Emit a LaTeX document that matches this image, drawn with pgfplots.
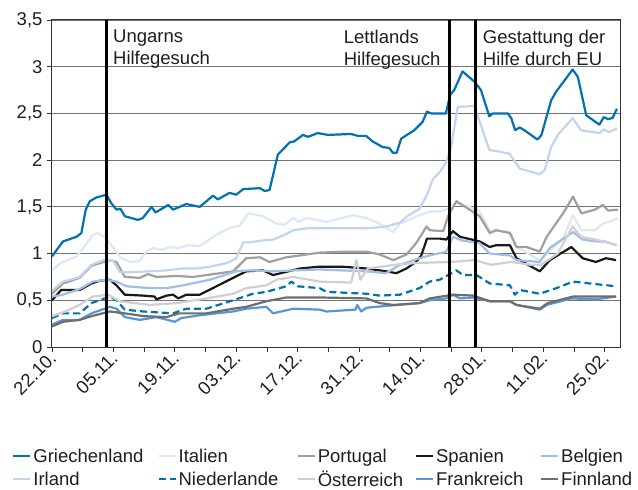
\documentclass[border=0pt]{standalone}
\usepackage{pgfplots}
\pgfplotsset{compat=1.18}
\usepackage{fontspec}
\setmainfont{Liberation Sans}

\definecolor{cGR}{RGB}{0,114,178}
\definecolor{cIT}{RGB}{220,232,248}
\definecolor{cIE}{RGB}{194,213,240}
\definecolor{cBE}{RGB}{160,190,232}
\definecolor{cFR}{RGB}{90,150,214}
\definecolor{cPT}{RGB}{160,160,160}
\definecolor{cES}{RGB}{25,25,25}
\definecolor{cAT}{RGB}{208,208,208}
\definecolor{cFI}{RGB}{110,110,110}
\definecolor{txt}{RGB}{30,30,30}

\begin{document}
\begin{tikzpicture}[font=\fontsize{18.5}{22}\selectfont, text=txt]
\useasboundingbox (-52pt,-143pt) rectangle (586pt,347pt);
\begin{axis}[
  scale only axis, width=568pt, height=327pt,
  xmin=0, xmax=129.5, ymin=0, ymax=3.5,
  xtick={0,14,...,126},
  xticklabels={22.10.,05.11.,19.11.,03.12.,17.12.,31.12.,14.01.,28.01.,11.02.,25.02.},
  minor xtick={7,21,...,119},
  ytick={0,0.5,...,3.5},
  /pgf/number format/use comma,
  /pgf/number format/assume math mode=true,
  ymajorgrids,
  grid style={black!55, line width=0.8pt},
  axis line style={black!80, line width=1pt},
  tick align=outside, tick pos=left,
  major tick length=5pt, minor tick length=5pt,
  tick style={black!80, line width=0.8pt},
  xticklabel style={rotate=45, anchor=east, xshift=2pt, yshift=-3pt},
  yticklabel style={xshift=-1pt},
  every axis plot/.append style={line width=2.2pt, line join=round},
  legend columns=5,
  legend cell align=left,
  legend image code/.code={\draw[#1] (0pt,0pt) -- (17pt,0pt);},
  legend style={at={(axis description cs:-0.0704,-0.308)}, anchor=north west,
    draw=none, fill=none, inner sep=0pt, column sep=0pt, row sep=5pt,
    nodes={inner xsep=2pt, inner ysep=1pt}},
]
% Griechenland
\addplot[cGR] coordinates {(0,0.97) (2.5,1.13) (5.6,1.18) (6.7,1.22) (7.7,1.47) (8.6,1.56) (10.1,1.60) (12.4,1.63) (13.5,1.54) (14.7,1.47) (15.6,1.48) (16.6,1.40) (19.6,1.36) (20.7,1.38) (22.7,1.50) (23.6,1.44) (26.5,1.52) (27.6,1.47) (30.6,1.53) (33.7,1.50) (36.7,1.62) (37.8,1.58) (40.5,1.65) (42,1.63) (43.6,1.69) (47.4,1.70) (48.5,1.67) (49.6,1.68) (51.5,2.06) (54.2,2.19) (55.2,2.20) (57.2,2.27) (58.4,2.25) (60.6,2.29) (62.9,2.27) (68.2,2.28) (69.7,2.26) (71.6,2.26) (73.1,2.20) (75.4,2.14) (76.9,2.13) (77.7,2.08) (78.6,2.08) (79.6,2.23) (82.6,2.32) (84.5,2.41) (85.5,2.52) (86.4,2.50) (89.8,2.50) (90.8,2.70) (91.7,2.75) (93.6,2.95) (96.3,2.84) (97.8,2.75) (99.7,2.47) (100.5,2.50) (103.9,2.50) (104.7,2.45) (105.6,2.32) (106.6,2.35) (107.7,2.32) (110.7,2.22) (111.6,2.27) (113.8,2.64) (114.9,2.73) (118.7,2.97) (119.9,2.89) (121.8,2.48) (124.8,2.38) (125.8,2.46) (126.7,2.44) (127.8,2.45) (128.8,2.55)};
\addlegendentry{\makebox[122pt][l]{Griechenland}}
% Italien
\addplot[cIT] coordinates {(0,0.82) (2,0.90) (5.6,0.97) (7,1.05) (9.3,1.20) (10.5,1.22) (12.2,1.17) (14,1.06) (15.8,0.95) (18,0.91) (20,0.92) (21.5,1.02) (23,1.06) (25,1.04) (27,1.07) (29,1.06) (31,1.09) (33.7,1.08) (35.2,1.13) (37.5,1.20) (39.5,1.25) (41,1.28) (42.8,1.30) (44.8,1.43) (48.1,1.40) (51.2,1.32) (53,1.31) (55,1.38) (56.1,1.34) (58,1.38) (62.6,1.34) (68.6,1.41) (71.7,1.38) (74.7,1.32) (77.8,1.23) (79.3,1.32) (83.8,1.41) (86.1,1.45) (88.4,1.45) (90.3,1.48) (92.2,1.54) (95.2,1.50) (97.5,1.45) (99.8,1.25) (104.4,1.23) (105.9,1.07) (111.2,0.93) (112.8,1.00) (116.5,1.16) (118.8,1.41) (120.7,1.25) (123.8,1.25) (125.6,1.32) (127,1.34) (129,1.38)};
\addlegendentry{\makebox[116pt][l]{Italien}}
% Portugal
\addplot[cPT] coordinates {(0,0.57) (2.5,0.68) (6.3,0.74) (9,0.87) (13.2,0.93) (14.7,0.91) (16.6,0.75) (20,0.74) (21.9,0.78) (23.8,0.75) (28.4,0.76) (32.2,0.75) (35.2,0.77) (41.3,0.81) (44.3,0.95) (47.4,0.96) (49.6,0.91) (53.4,0.96) (55,0.97) (61,1.01) (66,1.02) (71.7,1.02) (74.7,0.99) (77.8,0.93) (80.8,0.99) (83,1.11) (85.4,1.29) (86.1,1.25) (89.2,1.24) (90.3,1.40) (92.2,1.56) (95.2,1.47) (97.5,1.40) (99.8,1.22) (101.3,1.25) (104.4,1.22) (105.9,1.07) (108.2,1.07) (111.2,1.02) (112.8,1.18) (116.5,1.43) (118.8,1.61) (120.7,1.43) (123.8,1.47) (125.6,1.52) (126.8,1.46) (129,1.47)};
\addlegendentry{\makebox[95pt][l]{Portugal}}
% Spanien
\addplot[cES] coordinates {(0,0.50) (2.1,0.61) (6.3,0.61) (9,0.68) (11,0.71) (13.2,0.72) (14.7,0.66) (16.6,0.56) (20.8,0.55) (23.4,0.54) (23.8,0.51) (26.1,0.55) (27.6,0.56) (28.8,0.52) (30.6,0.56) (33.7,0.56) (37.5,0.65) (41.3,0.74) (44.3,0.81) (48.1,0.82) (50.4,0.77) (53,0.80) (56.5,0.84) (61,0.86) (66,0.86) (71.7,0.84) (73.2,0.83) (76.2,0.81) (78.5,0.79) (80.8,0.84) (83,0.91) (84.2,0.98) (85.5,1.16) (88.4,1.16) (89.9,1.15) (91.4,1.24) (93,1.18) (97.5,1.13) (99.8,1.07) (101.3,1.09) (104.4,1.09) (105.9,0.95) (111.2,0.81) (113.5,0.93) (118.4,1.07) (121,0.95) (124,0.91) (126.3,0.95) (128.6,0.93)};
\addlegendentry{\makebox[102pt][l]{Spanien}}
% Belgien
\addplot[cBE] coordinates {(0,0.54) (2.5,0.56) (6.3,0.62) (9.3,0.70) (12.4,0.72) (14.7,0.70) (17,0.65) (22.3,0.63) (26.1,0.63) (29.9,0.66) (36,0.72) (42,0.81) (45,0.82) (50.4,0.81) (55,0.82) (61,0.83) (66,0.82) (71.7,0.81) (76.2,0.79) (79.3,0.88) (83.8,0.95) (86.1,0.98) (89.9,1.02) (91.4,1.18) (93.5,1.14) (97.5,1.11) (99.8,1.00) (104.4,0.98) (105.9,0.93) (111.2,0.91) (113.5,1.06) (118.8,1.23) (121,1.15) (124,1.13) (126,1.13) (128.6,1.09)};
\addlegendentry{Belgien}
% Irland
\addplot[cIE] coordinates {(0,0.60) (2.5,0.70) (6.3,0.75) (9,0.88) (12.4,0.94) (14,0.92) (15.5,0.80) (18,0.80) (22.3,0.81) (26,0.82) (29.9,0.84) (33,0.84) (36,0.86) (40,0.90) (42,0.95) (43.6,1.12) (45,1.12) (48,1.14) (50.4,1.15) (53,1.20) (55,1.25) (58,1.27) (62,1.27) (68,1.27) (71.7,1.27) (76.2,1.29) (79.3,1.33) (81,1.40) (83.8,1.48) (85.4,1.62) (86.8,1.79) (88.5,1.88) (89.8,1.97) (91,2.14) (92.5,2.57) (96.3,2.58) (99.7,2.11) (104.3,2.07) (106.6,1.91) (111.1,1.85) (112.3,1.89) (113.8,2.14) (115.5,2.28) (118.7,2.45) (120.6,2.32) (124.8,2.29) (125.8,2.33) (127,2.30) (128.8,2.34)};
\addlegendentry{Irland}
% Niederlande
\addplot[cGR, dash pattern=on 7pt off 4pt] coordinates {(0,0.31) (2.5,0.36) (6.3,0.36) (9,0.47) (13.2,0.54) (14.7,0.50) (16.6,0.40) (20.8,0.38) (27.6,0.36) (30.6,0.41) (35.2,0.41) (41.3,0.50) (45.8,0.57) (48.9,0.59) (53.4,0.65) (54.6,0.70) (56,0.65) (61,0.63) (62.6,0.59) (71.7,0.57) (74.7,0.55) (79.3,0.56) (83.8,0.63) (86.1,0.70) (88.4,0.72) (92.2,0.82) (93.7,0.77) (96.8,0.77) (99.8,0.68) (104.4,0.66) (105.5,0.56) (106.7,0.61) (111.2,0.57) (115,0.63) (118.8,0.70) (122.6,0.68) (128.6,0.65)};
\addlegendentry{Niederlande}
% Oesterreich
\addplot[cAT] coordinates {(0,0.33) (3,0.38) (6.3,0.45) (9.3,0.54) (12.8,0.56) (15.4,0.49) (22.3,0.45) (28.4,0.47) (35.2,0.52) (41.3,0.57) (44.3,0.63) (48.9,0.66) (51.1,0.72) (55,0.75) (61,0.70) (68.2,0.69) (69.4,0.93) (70.3,0.72) (72,0.84) (78.1,0.88) (83.4,0.90) (91,0.91) (96.3,0.93) (100.1,0.88) (104.7,0.91) (109.2,0.88) (111.5,0.88) (115.3,1.00) (118.7,1.29) (120.6,1.18) (125.9,1.13) (128.8,1.09)};
\addlegendentry{Österreich}
% Frankreich
\addplot[cFR] coordinates {(0,0.24) (2.5,0.29) (6.3,0.29) (9,0.36) (13.2,0.43) (14.7,0.41) (16.6,0.32) (20,0.29) (23.8,0.32) (28,0.27) (29.5,0.31) (33.7,0.34) (41.3,0.38) (44.3,0.41) (48.9,0.43) (50.4,0.36) (55,0.41) (61,0.40) (62.6,0.38) (69.2,0.40) (69.6,0.45) (70.5,0.38) (71.7,0.42) (76.2,0.44) (83.8,0.47) (86.1,0.50) (89.9,0.52) (91.4,0.56) (93,0.52) (96,0.53) (99.8,0.49) (104.4,0.49) (105.9,0.45) (111.2,0.40) (112.8,0.45) (118.4,0.52) (124,0.51) (128.6,0.54)};
\addlegendentry{Frankreich}
% Finnland
\addplot[cFI] coordinates {(0,0.22) (2.5,0.27) (6.3,0.29) (9,0.33) (13.2,0.38) (16.6,0.36) (21,0.33) (26.1,0.32) (29,0.36) (35.2,0.36) (41.3,0.41) (44.3,0.43) (48.9,0.49) (53.4,0.53) (61,0.53) (71.7,0.52) (74.7,0.47) (77.8,0.45) (83.8,0.47) (86.1,0.52) (91.4,0.56) (96,0.55) (99.8,0.49) (104.4,0.49) (105.9,0.45) (111.2,0.41) (113,0.47) (118.8,0.54) (128.6,0.54)};
\addlegendentry{Finnland}
% Ereignislinien
\addplot[black, line width=3pt, forget plot] coordinates {(12.5,0) (12.5,3.5)};
\addplot[black, line width=3pt, forget plot] coordinates {(90.6,0) (90.6,3.5)};
\addplot[black, line width=3pt, forget plot] coordinates {(96.5,0) (96.5,3.5)};
\node[anchor=north west, align=left, inner sep=0pt] at ([yshift=-10pt]axis cs:13.9,3.5) {Ungarns\\Hilfegesuch};
\node[anchor=north west, align=left, inner sep=0pt] at ([yshift=-10pt]axis cs:66.5,3.5) {Lettlands\\Hilfegesuch};
\node[anchor=north west, align=left, inner sep=0pt] at ([yshift=-10pt]axis cs:98.2,3.5) {Gestattung der\\Hilfe durch EU};
\node at ([yshift=-69pt]axis cs:26.4,0) {2008};
\node at ([yshift=-69pt]axis cs:93.4,0) {2009};
\end{axis}
\end{tikzpicture}
\end{document}
